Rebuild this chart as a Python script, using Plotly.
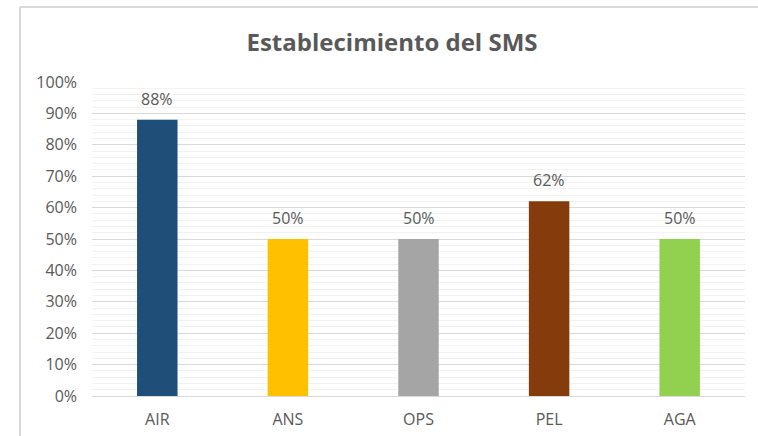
import plotly.graph_objects as go

categories = ["AIR", "ANS", "OPS", "PEL", "AGA"]
values = [0.88, 0.50, 0.50, 0.62, 0.50]
colors = ["#1F4E79", "#FFC000", "#A5A5A5", "#843C0C", "#92D050"]
labels = ["88%", "50%", "50%", "62%", "50%"]
title = "Establecimiento del SMS"

FONT = "Open Sans"
TXT = "#595959"

fig = go.Figure()
fig.add_trace(go.Bar(
    x=categories, y=values, marker=dict(color=colors, line=dict(width=0)),
    width=0.31, hoverinfo="skip",
))

for c, v, t in zip(categories, values, labels):
    fig.add_annotation(x=c, y=v, text=t, showarrow=False, yanchor="bottom",
                       yshift=8, font=dict(family=FONT, size=16, color=TXT))

W, H = 758, 436
L, R, T, B = 92, 13, 82, 40
pw, ph = W - L - R, H - T - B
bx0 = (20 - L) / pw
by1 = 1 + (T - 7) / ph

fig.update_layout(
    width=W, height=H, margin=dict(l=L, r=R, t=T, b=B, autoexpand=False),
    paper_bgcolor="white", plot_bgcolor="white", showlegend=False,
    title=dict(text="<b>" + title + "</b>", x=392 / W, xanchor="center", xref="container",
               y=1 - 43 / H, yanchor="middle",
               font=dict(family=FONT, size=24, color=TXT)),
    font=dict(family=FONT, size=16, color=TXT),
    xaxis=dict(showgrid=False, showline=False, ticks="", ticklabelstandoff=12,
               automargin=False, tickfont=dict(size=16, color=TXT)),
    yaxis=dict(range=[0, 1.0], dtick=0.1, tickformat=".0%", showgrid=True,
               gridcolor="#D9D9D9", gridwidth=1, zeroline=True, zerolinecolor="#D9D9D9",
               zerolinewidth=1, showline=False, ticks="", ticklabelstandoff=14,
               automargin=False, tickfont=dict(size=16, color=TXT),
               minor=dict(dtick=0.02, showgrid=True, gridcolor="#F2F2F2", gridwidth=1)),
    shapes=[
        dict(type="line", xref="paper", yref="paper", x0=bx0, x1=1.2, y0=by1, y1=by1,
             line=dict(color="#D9D9D9", width=2), layer="below"),
        dict(type="line", xref="paper", yref="paper", x0=bx0, x1=bx0, y0=by1, y1=-0.3,
             line=dict(color="#D9D9D9", width=2), layer="below"),
    ],
)

fig.write_html("out.html", config={"displayModeBar": False, "staticPlot": True})
with open("out.html", encoding="utf-8") as f:
    html = f.read()
html = html.replace("<head>", "<head><style>html,body{margin:0;padding:0;overflow:hidden}</style>", 1)
with open("out.html", "w", encoding="utf-8") as f:
    f.write(html)
